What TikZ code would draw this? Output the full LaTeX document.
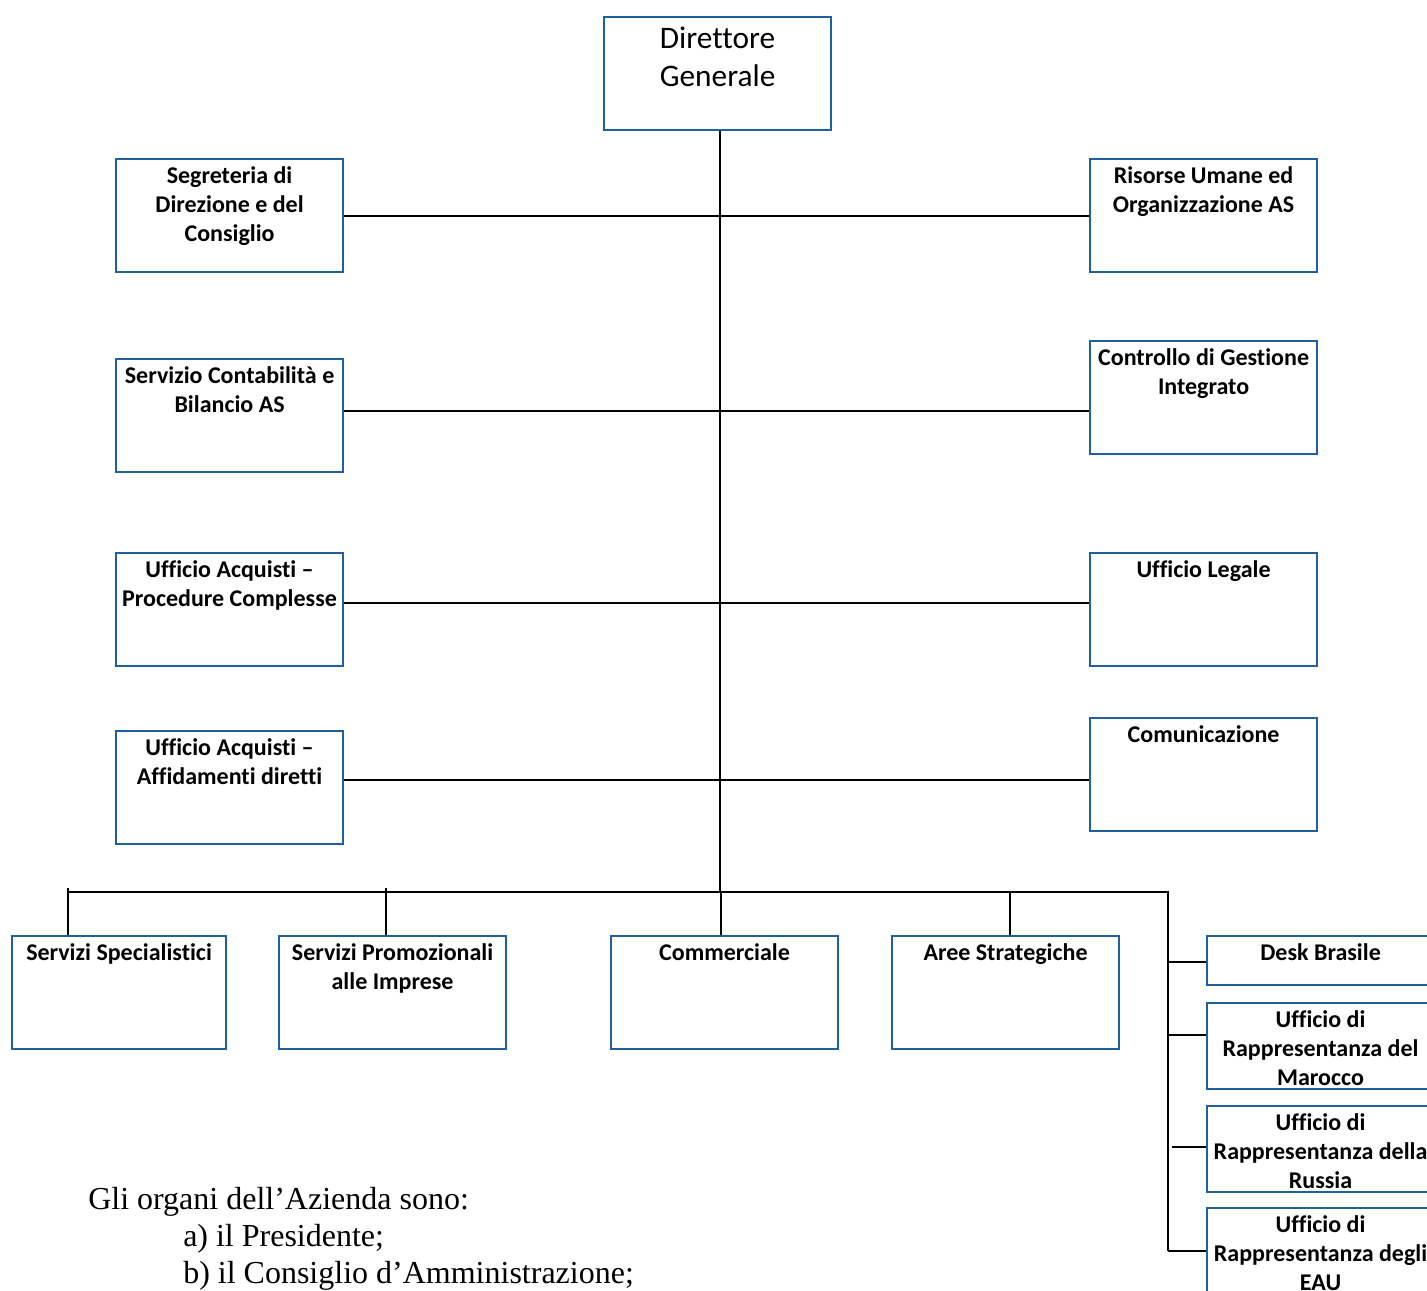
\documentclass[tikz,border=0pt]{standalone}
\usepackage{fontspec}
\setmainfont{Carlito}[Ligatures=NoCommon]
\newfontfamily\timesfont{Liberation Serif}
\usetikzlibrary{calc}

\definecolor{boxblue}{RGB}{32,96,160}

\begin{document}
\begin{tikzpicture}[
    x=0.75pt, y=-0.75pt,
    link/.style={
        draw=black,
        line width=1.5pt
    },
    unit/.style={
        rectangle,
        draw=boxblue,
        line width=1.6pt,
        anchor=north west,
        inner sep=0pt,
        minimum width=170.25pt,
        minimum height=84.75pt
    },
    small/.style={
        unit,
        minimum height=64.5pt
    },
    lbl/.style={
        anchor=north,
        align=center,
        inner sep=6.2pt,
        font=\bfseries\fontsize{18}{21.75}\selectfont
    },
    head/.style={
        anchor=north,
        align=center,
        inner sep=7.8pt,
        font=\fontsize{23.5}{28.5}\selectfont
    }
]

    \path[use as bounding box, clip] (0,0) rectangle (1427,1291);

    % Direzione
    \node[unit] (dg) at (603,16) {};
    \node[head] (dgtxt) at (dg.north) {Direttore\\Generale};

    % --- Staff, left column ---
    \node[unit, label={[lbl]north:Segreteria di\\Direzione e del\\Consiglio}] (segr) at (115,158) {};
    \node[unit, label={[lbl]north:Servizio Contabilità e\\Bilancio AS}] (contab) at (115,358) {};
    \node[unit, label={[lbl]north:Ufficio Acquisti –\\Procedure Complesse}] (acqpc) at (115,552) {};
    \node[unit, label={[lbl]north:Ufficio Acquisti –\\Affidamenti diretti}] (acqad) at (115,730) {};

    % --- Staff, right column ---
    \node[unit, label={[lbl]north:Risorse Umane ed\\Organizzazione AS}] (risorse) at (1089,158) {};
    \node[unit, label={[lbl]north:Controllo di Gestione\\Integrato}] (ctrl) at (1089,340) {};
    \node[unit, label={[lbl]north:Ufficio Legale}] (legale) at (1089,552) {};
    \node[unit, label={[lbl]north:Comunicazione}] (comunic) at (1089,717) {};

    % --- Line units ---
    \node[unit, minimum width=160.5pt, label={[lbl]north:Servizi Specialistici}] (spec) at (11,935) {};
    \node[unit, label={[lbl]north:Servizi Promozionali\\alle Imprese}] (promo) at (278,935) {};
    \node[unit, label={[lbl]north:Commerciale}] (comm) at (610,935) {};
    \node[unit, label={[lbl]north:Aree Strategiche}] (aree) at (891,935) {};

    % --- Foreign offices ---
    \node[unit, minimum height=36.75pt, label={[lbl]north:Desk Brasile}] (brasile) at (1206,935) {};
    \node[small, label={[lbl]north:Ufficio di\\Rappresentanza del\\Marocco}] (marocco) at (1206,1002) {};
    \node[small, label={[lbl]north:Ufficio di\\Rappresentanza della\\Russia}] (russia) at (1206,1105) {};
    \node[small, label={[lbl]north:Ufficio di\\Rappresentanza degli\\EAU}] (eau) at (1206,1207) {};

    % Junctions
    \coordinate (j1) at (720,216);
    \coordinate (j2) at (720,411);
    \coordinate (j3) at (720,603);
    \coordinate (j4) at (720,780);
    \coordinate (bus) at (720,892);
    \coordinate (busl) at (68,892);
    \coordinate (b2) at (386,892);
    \coordinate (b3) at (721,892);
    \coordinate (b4) at (1010,892);
    \coordinate (busr) at (1168,892);
    \coordinate (r1) at (1168,962);
    \coordinate (r2) at (1168,1035);
    \coordinate (r3) at (1172,1147);
    \coordinate (r4) at (1168,1251);

    % Trunk
    \draw[link] (dg.south -| bus) -- (bus);
    \draw[link] (segr.east |- j1) -- (risorse.west |- j1);
    \draw[link] (contab.east |- j2) -- (ctrl.west |- j2);
    \draw[link] (acqpc.east |- j3) -- (legale.west |- j3);
    \draw[link] (acqad.east |- j4) -- (comunic.west |- j4);

    % Bus
    \draw[link] ($(busl)+(0,-4)$) -- (busl) -- (busr) -- (r4);
    \draw[link] (busl) -- (busl |- spec.north);
    \draw[link] ($(b2)+(0,-4)$) -- (b2 |- promo.north);
    \draw[link] (b3) -- (b3 |- comm.north);
    \draw[link] (b4) -- (b4 |- aree.north);

    % Foreign offices
    \draw[link] (r1) -- (r1 -| brasile.west);
    \draw[link] (r2) -- (r2 -| marocco.west);
    \draw[link] (r3) -- (r3 -| russia.west);
    \draw[link] (r4) -- (r4 -| eau.west);

    % Testo
    \node[anchor=north west, align=left, inner sep=0pt,
          font=\timesfont\fontsize{24}{27.75}\selectfont] (organi) at (88,1187)
        {Gli organi dell’Azienda sono:\\
         \hspace*{71.25pt}a) il Presidente;\\
         \hspace*{71.25pt}b) il Consiglio d’Amministrazione;};

\end{tikzpicture}
\end{document}
